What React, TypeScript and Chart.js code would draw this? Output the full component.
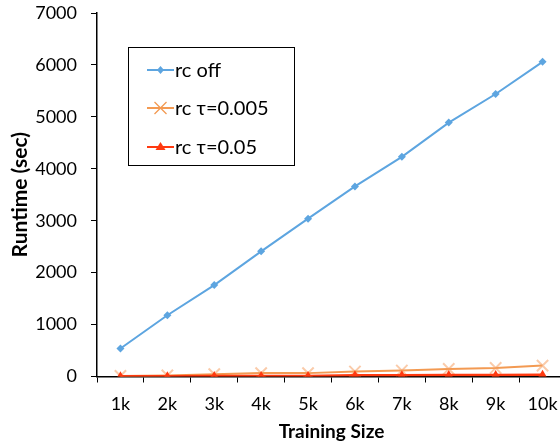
import React, { useEffect, useRef } from "react";
import { Chart, registerables } from "chart.js";

Chart.register(...registerables);

const categories = ["1k", "2k", "3k", "4k", "5k", "6k", "7k", "8k", "9k", "10k"];
const rcOff = [540, 1180, 1760, 2410, 3040, 3660, 4230, 4890, 5440, 6060];
const rcTau005 = [10, 20, 45, 65, 65, 95, 115, 145, 165, 210];
const rcTau05 = [5, 5, 10, 12, 12, 25, 25, 30, 30, 35];
const yTicks = [0, 1000, 2000, 3000, 4000, 5000, 6000, 7000];
const legendLabels = ["rc off", "rc τ=0.005", "rc τ=0.05"];

const FONT = "Lato, 'Open Sans', sans-serif";
const BLUE = "#5DA5E0";
const ORANGE = "#F39A52";
const ORANGE_MARK = "rgba(245,160,100,0.55)";
const RED = "#FF3A10";

const legendPlugin = {
  id: "boxLegend",
  afterDraw(chart: any) {
    const ctx = chart.ctx;
    const box = { x: 128.5, y: 47.5, w: 166, h: 118 };
    ctx.save();
    ctx.fillStyle = "#fff";
    ctx.fillRect(box.x, box.y, box.w, box.h);
    ctx.strokeStyle = "#000";
    ctx.lineWidth = 1;
    ctx.strokeRect(box.x, box.y, box.w, box.h);
    const rows = [70, 108, 147];
    const colors = [BLUE, ORANGE, RED];
    rows.forEach((yy, i) => {
      ctx.strokeStyle = colors[i];
      ctx.lineWidth = 2;
      ctx.beginPath();
      ctx.moveTo(147, yy);
      ctx.lineTo(174, yy);
      ctx.stroke();
      const cx = 160.5;
      if (i === 0) {
        ctx.fillStyle = BLUE;
        ctx.beginPath();
        ctx.moveTo(cx, yy - 4);
        ctx.lineTo(cx + 3.5, yy);
        ctx.lineTo(cx, yy + 4);
        ctx.lineTo(cx - 3.5, yy);
        ctx.closePath();
        ctx.fill();
      } else if (i === 1) {
        ctx.strokeStyle = ORANGE;
        ctx.lineWidth = 1.3;
        ctx.beginPath();
        ctx.moveTo(cx - 6, yy - 6);
        ctx.lineTo(cx + 6, yy + 6);
        ctx.moveTo(cx + 6, yy - 6);
        ctx.lineTo(cx - 6, yy + 6);
        ctx.stroke();
      } else {
        ctx.fillStyle = RED;
        ctx.beginPath();
        ctx.moveTo(cx, yy - 5);
        ctx.lineTo(cx + 5, yy + 3);
        ctx.lineTo(cx - 5, yy + 3);
        ctx.closePath();
        ctx.fill();
      }
      ctx.fillStyle = "#000";
      ctx.font = `20px ${FONT}`;
      ctx.textAlign = "left";
      ctx.textBaseline = "middle";
      ctx.fillText(legendLabels[i], 175, yy + 1);
    });
    ctx.restore();
  },
};

export default function App() {
  const ref = useRef<HTMLCanvasElement | null>(null);
  useEffect(() => {
    if (!ref.current) return;
    const chart = new Chart(ref.current, {
      type: "line",
      data: {
        labels: categories,
        datasets: [
          {
            label: legendLabels[0],
            data: rcOff,
            borderColor: BLUE,
            backgroundColor: BLUE,
            borderWidth: 2,
            pointStyle: "rectRot",
            pointRadius: 4,
            pointBorderWidth: 0,
            order: 3,
          },
          {
            label: legendLabels[1],
            data: rcTau005,
            borderColor: ORANGE,
            backgroundColor: ORANGE_MARK,
            borderWidth: 2,
            pointStyle: "crossRot",
            pointRadius: 8,
            pointBorderWidth: 2,
            pointBorderColor: ORANGE_MARK,
            order: 2,
          },
          {
            label: legendLabels[2],
            data: rcTau05,
            borderColor: RED,
            backgroundColor: RED,
            borderWidth: 2.5,
            pointStyle: "triangle",
            pointRadius: 5,
            pointBorderWidth: 0,
            order: 1,
          },
        ],
      },
      options: {
        animation: false,
        responsive: false,
        maintainAspectRatio: false,
        layout: { padding: { top: 13, right: 1, left: 0, bottom: 0 } },
        plugins: {
          legend: { display: false },
          tooltip: { enabled: false },
        },
        scales: {
          x: {
            type: "category",
            offset: true,
            grid: {
              offset: true,
              drawOnChartArea: false,
              drawTicks: true,
              tickLength: 6,
              color: "#000",
            },
            border: { display: true, color: "#000", width: 1.5 },
            ticks: {
              color: "#000",
              font: { family: FONT, size: 18 },
              padding: 11,
              maxRotation: 0,
              autoSkip: false,
            },
            title: {
              display: true,
              text: "Training Size",
              color: "#000",
              font: { family: FONT, size: 19, weight: "bold" },
              padding: { top: 0, bottom: 0 },
            },
            afterFit(scale: any) {
              scale.height = 66.5;
            },
          },
          y: {
            min: 0,
            max: 7000,
            grid: {
              drawOnChartArea: false,
              drawTicks: true,
              tickLength: 6,
              color: "#000",
            },
            border: { display: true, color: "#000", width: 1.5 },
            afterBuildTicks(scale: any) {
              scale.ticks = yTicks.map((v) => ({ value: v }));
            },
            ticks: {
              color: "#000",
              font: { family: FONT, size: 18 },
              padding: 14,
              callback: (v: any) => String(v),
            },
            title: {
              display: true,
              text: "Runtime (sec)",
              color: "#000",
              font: { family: FONT, size: 21, weight: "bold" },
              padding: { top: 8, bottom: 0 },
            },
            afterFit(scale: any) {
              scale.width = 97;
              scale.paddingTop = 0;
              scale.paddingBottom = 0;
            },
          },
        },
      },
      plugins: [legendPlugin],
    } as any);
    return () => chart.destroy();
  }, []);
  return (
    <div style={{ position: "fixed", left: 0, top: 0, width: 576, height: 443, background: "#fff" }}>
      <canvas ref={ref} width={576} height={443} style={{ width: 576, height: 443 }} />
    </div>
  );
}
